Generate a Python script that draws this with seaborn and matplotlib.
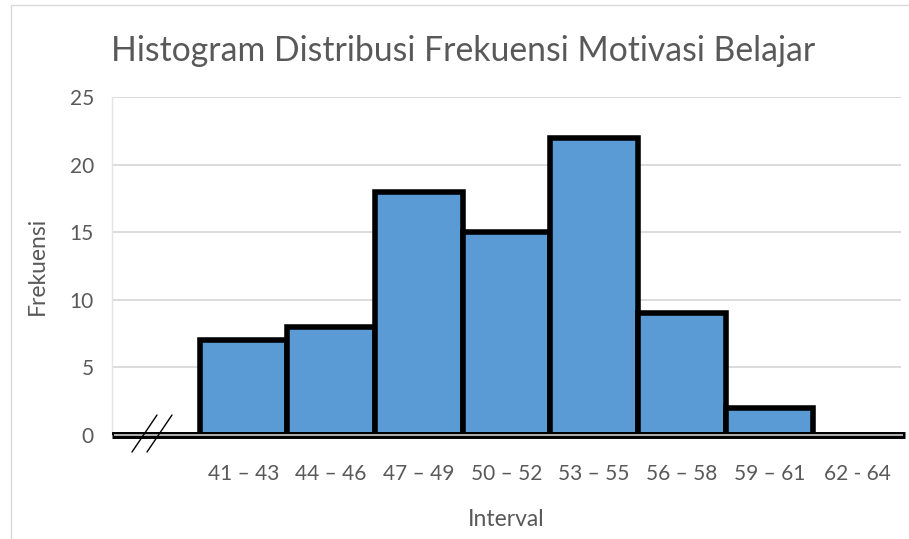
import matplotlib
matplotlib.use("Agg")
import matplotlib.pyplot as plt
from matplotlib.lines import Line2D
from matplotlib.patches import Rectangle
import pandas as pd
import seaborn as sns

# data (first slot is the empty "break" slot)
intervals = ["", "41 – 43", "44 – 46", "47 – 49", "50 – 52", "53 – 55",
             "56 – 58", "59 – 61", "62 - 64"]
frekuensi = [0, 7, 8, 18, 15, 22, 9, 2, 0]
y_ticks = [0, 5, 10, 15, 20, 25]

df = pd.DataFrame({"Interval": intervals, "Frekuensi": frekuensi})

sns.set_theme(style="white")
plt.rcParams["font.family"] = ["Lato", "DejaVu Sans"]
txt = "#595959"

W, H = 909, 539
fig = plt.figure(figsize=(W / 100, H / 100), dpi=100)
ax = fig.add_axes([112 / W, 1 - 435 / H, (901 - 112) / W, (435 - 97) / H])

sns.barplot(data=df, x="Interval", y="Frekuensi", order=intervals,
            color="#5B9BD5", saturation=1, width=1.0,
            edgecolor="black", linewidth=4, ax=ax, zorder=3)

ax.set_ylim(0, 25)
ax.set_xlim(-0.5, len(intervals) - 0.5)
ax.set_yticks(y_ticks)
ax.yaxis.grid(True, color="#D9D9D9", linewidth=1.3, zorder=0)
ax.set_axisbelow(True)
for s in ["top", "right", "bottom"]:
    ax.spines[s].set_visible(False)
ax.spines["left"].set_color("#E4E4E4")
ax.spines["left"].set_linewidth(1)

ax.tick_params(axis="both", length=0, labelsize=15, labelcolor=txt)
ax.tick_params(axis="x", pad=21)
ax.tick_params(axis="y", pad=13)

ax.set_xlabel("Interval", fontsize=16.5, color=txt, labelpad=18)
ax.set_ylabel("Frekuensi", fontsize=16.5, color=txt, labelpad=16)
ax.set_title("Histogram Distribusi Frekuensi Motivasi Belajar",
             fontsize=24.3, color=txt, pad=26, x=0.445)

# baseline: thick black with a light grey core
ax.axhline(0, xmin=0.0, xmax=1.005, color="black", lw=5, zorder=4,
           clip_on=False, solid_capstyle="butt")
ax.axhline(0, xmin=0.002, xmax=1.003, color="#BFBFBF", lw=1.3, zorder=5,
           clip_on=False, solid_capstyle="butt")

# axis break marks
for x0 in (132, 147):
    fig.add_artist(Line2D([x0 / W, (x0 + 25) / W], [1 - 452 / H, 1 - 415 / H],
                          color="black", lw=1))

# chart frame
fig.add_artist(Rectangle((11 / W, -0.05), 1.0, 1 - 5 / H + 0.05,
                         transform=fig.transFigure, fill=False,
                         edgecolor="#D9D9D9", lw=1))

fig.savefig("out.png", dpi=100)
